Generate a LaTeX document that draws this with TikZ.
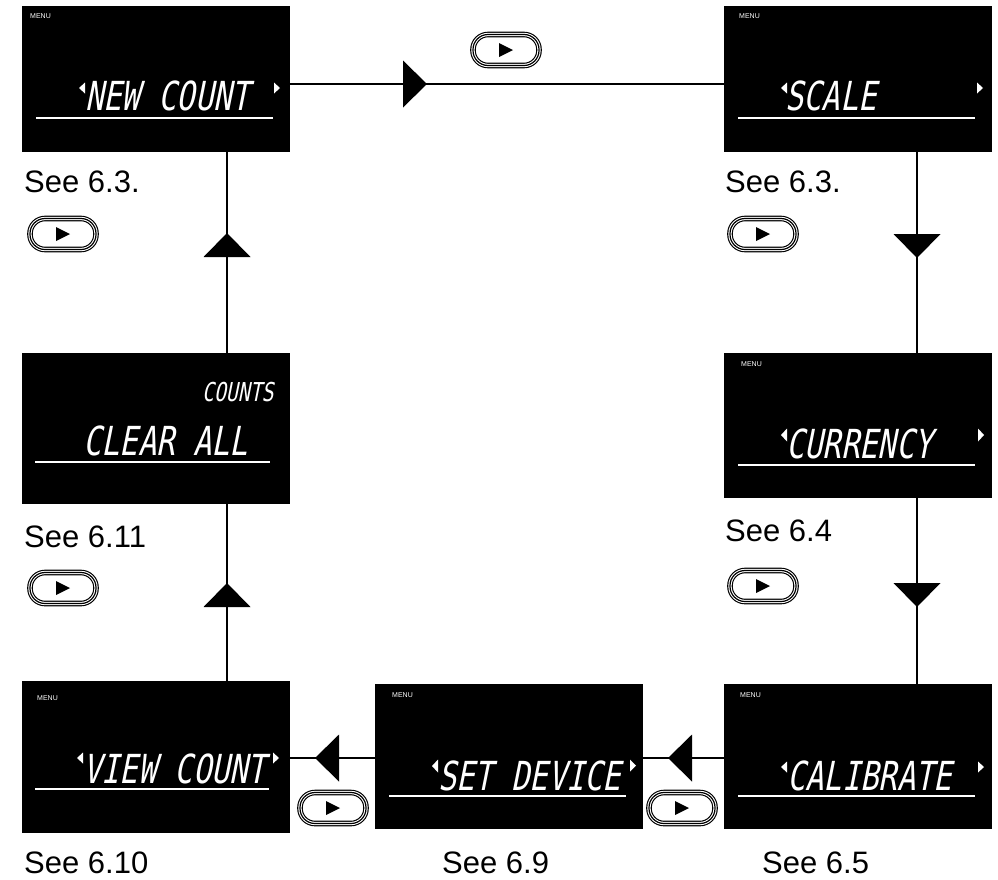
\documentclass[tikz,border=0pt]{standalone}
\usepackage{fontspec}
\setmainfont{Liberation Sans}
\newfontfamily\lcd[FakeSlant=0.2,FakeStretch=0.76]{DejaVu Sans Mono}
\usetikzlibrary{decorations.markings}
\tikzset{
  lcdbox/.style={rectangle, fill=black, draw=none, inner sep=0pt, outer sep=0pt, anchor=north west},
  lcdtext/.style={text=white, inner sep=0pt, anchor=base west, font=\lcd\fontsize{40}{40}\selectfont},
  lcdsmall/.style={text=white, inner sep=0pt, anchor=base west, font=\lcd\fontsize{26}{26}\selectfont},
  menutext/.style={text=white, inner sep=0pt, anchor=base west, font=\fontsize{7}{7}\selectfont},
  seelabel/.style={text=black, inner sep=0pt, anchor=base west, font=\fontsize{31}{31}\selectfont},
  uline/.style={draw=white, line width=1.1pt},
  marker/.style={fill=white},
  conn/.style={draw=black, line width=2.6pt},
  tri/.style={postaction={decorate}, decoration={markings, mark=at position #1 with {\fill[black] (-24,-23.5) -- (0,0) -- (-24,23.5) -- cycle;}}},
  btn/.style={rectangle, rounded corners=15pt, minimum width=66pt, minimum height=31pt, inner sep=0pt, fill=white, draw=black, line width=5.6pt,
    postaction={draw=white, line width=3.3pt}, postaction={draw=black, line width=1.2pt}}
}
\newcommand{\mybtn}[3]{%
  \node[btn] (#1) at (#2,#3) {};
  \fill[black] ([xshift=-7pt,yshift=7pt]#1.center) -- ([xshift=7pt]#1.center) -- ([xshift=-7pt,yshift=-7pt]#1.center) -- cycle;
}
\newcommand{\lmark}[3]{\fill[marker] (#1+6,#2-0.5) -- (#1,{(#2+#3)/2}) -- (#1+6,#3+0.5) -- cycle;}
\newcommand{\rmark}[3]{\fill[marker] (#1,#2-0.5) -- (#1+6,{(#2+#3)/2}) -- (#1,#3+0.5) -- cycle;}
\begin{document}
\begin{tikzpicture}[x=1pt,y=-1pt]
\useasboundingbox[fill=white] (0,0) rectangle (998,879);

% LCD boxes
\node[lcdbox, minimum width=268pt, minimum height=146pt] (b1) at (22,6) {};
\node[lcdbox, minimum width=268pt, minimum height=146pt] (b2) at (724,6) {};
\node[lcdbox, minimum width=268pt, minimum height=145pt] (b3) at (724,353) {};
\node[lcdbox, minimum width=268pt, minimum height=151pt] (b4) at (22,353) {};
\node[lcdbox, minimum width=268pt, minimum height=152pt] (b5) at (22,681) {};
\node[lcdbox, minimum width=268pt, minimum height=145pt] (b6) at (375,684) {};
\node[lcdbox, minimum width=268pt, minimum height=145pt] (b7) at (724,684) {};

% box 1: NEW COUNT
\node[menutext] (m1) at (30,18) {MENU};
\node[lcdtext] (t1) at (85,110) {NEW COUNT};
\lmark{79}{83}{93}\rmark{274}{83}{93}
\draw[uline] (36,118) -- (273,118);

% box 2: SCALE
\node[menutext] (m2) at (739,18) {MENU};
\node[lcdtext] (t2) at (785,110) {SCALE};
\lmark{781}{83}{93}\rmark{977}{83}{93}
\draw[uline] (738,118) -- (975,118);

% box 3: CURRENCY
\node[menutext] (m3) at (741,366) {MENU};
\node[lcdtext] (t3) at (786,458) {CURRENCY};
\lmark{781}{429}{441}\rmark{978}{429}{441}
\draw[uline] (738,465) -- (975,465);

% box 4: CLEAR ALL
\node[lcdsmall] (s4) at (202,401) {COUNTS};
\node[lcdtext] (t4) at (83,455) {CLEAR ALL};
\draw[uline] (35,462) -- (270,462);

% box 5: VIEW COUNT
\node[menutext] (m5) at (37,700) {MENU};
\node[lcdtext] (t5) at (83,783) {VIEW COUNT};
\lmark{77}{753}{763}\rmark{273}{753}{763}
\draw[uline] (35,789) -- (269,789);

% box 6: SET DEVICE
\node[menutext] (m6) at (392,697) {MENU};
\node[lcdtext] (t6) at (438,790) {SET DEVICE};
\lmark{432}{760}{772}\rmark{630}{760}{771}
\draw[uline] (389,796) -- (626,796);

% box 7: CALIBRATE
\node[menutext] (m7) at (740,697) {MENU};
\node[lcdtext] (t7) at (787,790) {CALIBRATE};
\lmark{781}{762}{772}\rmark{978}{762}{772}
\draw[uline] (738,796) -- (975,796);

% connectors
\draw[conn, tri=137pt] ([yshift=-5pt]b1.east) -- ([yshift=-5pt]b2.west);
\draw[conn, tri=106pt] ([xshift=59pt]b2.south) -- ([xshift=59pt]b3.north);
\draw[conn, tri=109pt] ([xshift=59pt]b3.south) -- ([xshift=59pt]b7.north);
\draw[conn, tri=56pt] ([yshift=-1.5pt]b7.west) -- ([yshift=-1.5pt]b6.west -| b6.east);
\draw[conn, tri=60pt] ([yshift=-1.5pt]b6.west) -- ([yshift=-1.5pt]b6.west -| b5.east);
\draw[conn, tri=98pt] ([xshift=71pt]b5.north) -- ([xshift=71pt]b4.south);
\draw[conn, tri=120pt] ([xshift=71pt]b4.north) -- ([xshift=71pt]b1.south);

% buttons
\mybtn{k1}{506}{50}
\mybtn{k2}{63}{234}
\mybtn{k3}{763}{234}
\mybtn{k4}{63}{588}
\mybtn{k5}{763}{586}
\mybtn{k6}{333}{808}
\mybtn{k7}{682}{808}

% labels
\node[seelabel] (l1) at (24,192) {See 6.3.};
\node[seelabel] (l2) at (725,192) {See 6.3.};
\node[seelabel] (l3) at (24,547) {See 6.11};
\node[seelabel] (l4) at (725,541) {See 6.4};
\node[seelabel] (l5) at (24,873) {See 6.10};
\node[seelabel] (l6) at (442,873) {See 6.9};
\node[seelabel] (l7) at (762,873) {See 6.5};
\end{tikzpicture}
\end{document}
